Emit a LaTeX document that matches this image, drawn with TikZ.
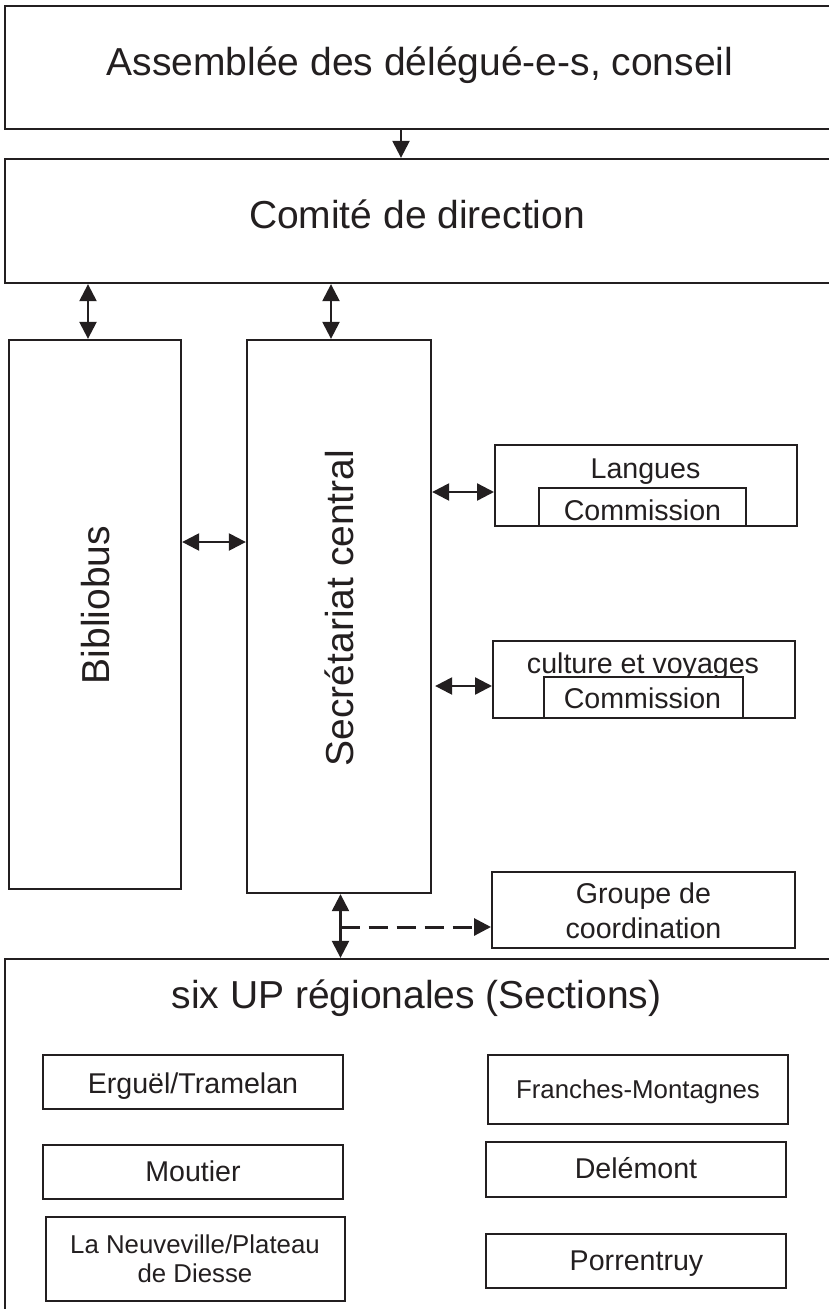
\documentclass[tikz,border=0pt]{standalone}
\usepackage{fontspec}
\setmainfont{Liberation Sans}
\usetikzlibrary{arrows.meta}
\definecolor{lineColor}{RGB}{35,31,32}
\tikzstyle{chart} = [x = 1pt, y = -1pt]
\tikzstyle{boxStyle} = [draw=lineColor, fill=white, line width=2.3pt, inner sep=0pt]
\tikzstyle{thinBoxStyle} = [boxStyle, line width=2pt]
\tikzstyle{linkStyle} = [draw=lineColor, line width=2.4pt, -{Triangle[length=17pt, width=17pt]}]
\tikzstyle{twoWayStyle} = [linkStyle, {Triangle[length=17pt, width=17pt]}-{Triangle[length=17pt, width=17pt]}]
\tikzstyle{dashStyle} = [linkStyle, line width=3pt, dash pattern=on 19pt off 9pt]
\tikzstyle{labelText} = [anchor=base, inner sep=0pt, text=lineColor]
\tikzstyle{turnedText} = [anchor=center, inner sep=0pt, text=lineColor, rotate=90]
\newcommand{\bigFont}{\fontsize{39}{46}\selectfont}
\newcommand{\midFont}{\fontsize{28.6}{34}\selectfont}
\newcommand{\smallFont}{\fontsize{25.8}{30}\selectfont}
\newcommand{\orgBox}[6]{\node [#6, minimum width={#4 - #2}, minimum height={#5 - #3}] (#1) at ({(#2 + #4) / 2}, {(#3 + #5) / 2}) {};}
\newcommand{\orgText}[5]{\node [labelText, font=#4] (#1) at (#2, #3) {#5};}

\begin{document}
\begin{tikzpicture}[chart]
  \useasboundingbox (0,0) rectangle (829,1309);
  % top levels
  \orgBox{assemblee}{5}{6}{834}{129}{boxStyle}
  \orgText{assembleeText}{420}{75}{\bigFont}{Assemblée des délégué-e-s, conseil}
  \orgBox{comite}{5}{159}{834}{283}{boxStyle}
  \orgText{comiteText}{417}{228}{\bigFont}{Comité de direction}
  % columns
  \orgBox{bibliobus}{9}{340}{181}{889}{boxStyle}
  \node [turnedText, font=\bigFont] (bibliobusText) at (96, 605) {Bibliobus};
  \orgBox{secretariat}{247}{340}{431}{893}{boxStyle}
  \node [turnedText, font=\bigFont] (secretariatText) at (339, 608) {Secrétariat central};
  % commissions
  \orgBox{langues}{495}{445}{797}{526}{thinBoxStyle}
  \orgText{languesText}{645.5}{478}{\midFont}{Langues}
  \orgBox{languesCom}{539}{488}{746}{526}{thinBoxStyle}
  \orgText{languesComText}{642.5}{520}{\midFont}{Commission}
  \orgBox{culture}{493}{641}{795}{718}{thinBoxStyle}
  \orgText{cultureText}{643}{673}{\midFont}{culture et voyages}
  \orgBox{cultureCom}{544}{677}{743}{718}{thinBoxStyle}
  \orgText{cultureComText}{642.5}{708}{\midFont}{Commission}
  \orgBox{groupe}{492}{872}{795}{948}{thinBoxStyle}
  \orgText{groupeTextA}{643.5}{903}{\midFont}{Groupe de}
  \orgText{groupeTextB}{643.5}{938}{\midFont}{coordination}
  % sections
  \orgBox{sections}{5}{959}{834}{1320}{boxStyle}
  \orgText{sectionsText}{416.5}{1008}{\bigFont}{six UP régionales (Sections)}
  \orgBox{erguel}{43}{1055}{343}{1109}{thinBoxStyle}
  \orgText{erguelText}{193}{1093}{\midFont}{Erguël/Tramelan}
  \orgBox{franches}{488}{1055}{788}{1124}{thinBoxStyle}
  \orgText{franchesText}{638}{1098}{\smallFont}{Franches-Montagnes}
  \orgBox{moutier}{43}{1145}{343}{1199}{thinBoxStyle}
  \orgText{moutierText}{193}{1181}{\midFont}{Moutier}
  \orgBox{delemont}{486}{1142}{786}{1197}{thinBoxStyle}
  \orgText{delemontText}{636}{1178}{\midFont}{Delémont}
  \orgBox{neuveville}{46}{1217}{345}{1301}{thinBoxStyle}
  \orgText{neuvevilleTextA}{195}{1253}{\smallFont}{La Neuveville/Plateau}
  \orgText{neuvevilleTextB}{195}{1282}{\smallFont}{de Diesse}
  \orgBox{porrentruy}{486}{1234}{786}{1288}{thinBoxStyle}
  \orgText{porrentruyText}{636.5}{1270}{\midFont}{Porrentruy}
  % links
  \coordinate (topLink) at (401, 0);
  \coordinate (biblioLink) at (88, 0);
  \coordinate (secLink) at (331, 0);
  \coordinate (joinPoint) at (340.5, 927);
  \draw [linkStyle] (assemblee.south -| topLink) -- (comite.north -| topLink);
  \draw [twoWayStyle] (comite.south -| biblioLink) -- (bibliobus.north -| biblioLink);
  \draw [twoWayStyle] (comite.south -| secLink) -- (secretariat.north -| secLink);
  \draw [twoWayStyle] ([yshift=72.5pt]bibliobus.east) -- ([yshift=72.5pt]bibliobus.east -| secretariat.west);
  \coordinate (languesLink) at ([yshift=-6.5pt]langues.west);
  \draw [twoWayStyle] (secretariat.east |- languesLink) -- (languesLink);
  \coordinate (cultureLink) at ([yshift=-6.5pt]culture.west);
  \draw [twoWayStyle] ([xshift=3pt]secretariat.east |- cultureLink) -- (cultureLink);
  \draw [twoWayStyle] (secretariat.south -| joinPoint) -- (sections.north -| joinPoint);
  \draw [dashStyle] (joinPoint) -- (groupe.west |- joinPoint);
\end{tikzpicture}
\end{document}
